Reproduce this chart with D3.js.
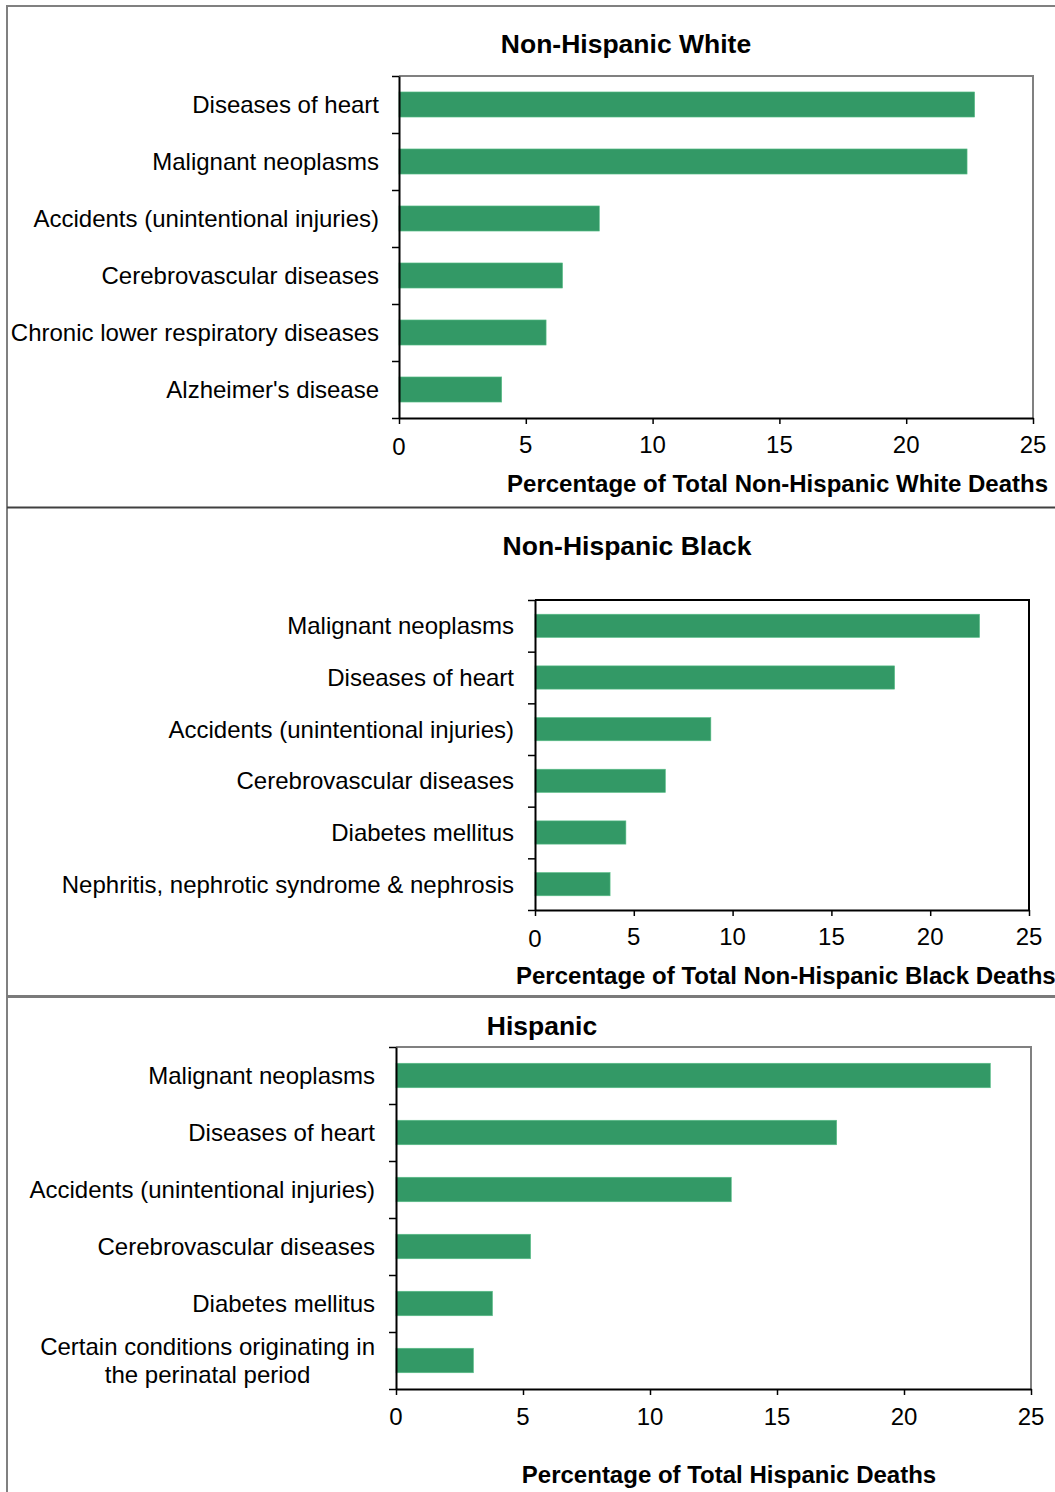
<!DOCTYPE html>
<html><head><meta charset="utf-8">
<script src="https://cdn.jsdelivr.net/npm/d3@7"></script>
<style>
html,body{margin:0;padding:0;background:#fff;}
text{font-family:"Liberation Sans",Arial,Helvetica,sans-serif;fill:#000;}
</style></head>
<body>
<svg id="chart" width="1055" height="1492"></svg>
<script>
// ---- data ----
const whiteCategories = ["Diseases of heart","Malignant neoplasms","Accidents (unintentional injuries)","Cerebrovascular diseases","Chronic lower respiratory diseases","Alzheimer's disease"];
const whiteValues = [22.7, 22.4, 7.9, 6.45, 5.8, 4.05];
const blackCategories = ["Malignant neoplasms","Diseases of heart","Accidents (unintentional injuries)","Cerebrovascular diseases","Diabetes mellitus","Nephritis, nephrotic syndrome & nephrosis"];
const blackValues = [22.5, 18.2, 8.9, 6.6, 4.6, 3.8];
const hispanicCategories = ["Malignant neoplasms","Diseases of heart","Accidents (unintentional injuries)","Cerebrovascular diseases","Diabetes mellitus","Certain conditions originating in\nthe perinatal period"];
const hispanicValues = [23.4, 17.35, 13.2, 5.3, 3.8, 3.05];
const tickValues = [0, 5, 10, 15, 20, 25];
const titles = ["Non-Hispanic White","Non-Hispanic Black","Hispanic"];
const axisTitles = ["Percentage of Total Non-Hispanic White Deaths","Percentage of Total Non-Hispanic Black Deaths","Percentage of Total Hispanic Deaths"];

const svg = d3.select("#chart");
const BAR = "#339966";

// outer frame and separators
svg.append("line").attr("x1",7).attr("x2",1055).attr("y1",6).attr("y2",6).attr("stroke","#808080").attr("stroke-width",2);
svg.append("line").attr("x1",7).attr("x2",7).attr("y1",5).attr("y2",1492).attr("stroke","#808080").attr("stroke-width",2);
svg.append("line").attr("x1",7).attr("x2",1055).attr("y1",507.5).attr("y2",507.5).attr("stroke","#404040").attr("stroke-width",2);
svg.append("line").attr("x1",7).attr("x2",1055).attr("y1",996.5).attr("y2",996.5).attr("stroke","#7a7a7a").attr("stroke-width",3);

const panels = [
  {cats: whiteCategories, vals: whiteValues, title: titles[0], axisTitle: axisTitles[0],
   L:399, R:1033, T:76, B:418, frame:"#808080", titleX:626, titleY:53, labelX:379, tickY:453,
   atX:1048, atY:492, atAnchor:"end", pad:0.56},
  {cats: blackCategories, vals: blackValues, title: titles[1], axisTitle: axisTitles[1],
   L:535, R:1029, T:600, B:910, frame:"#000", titleX:627, titleY:555, labelX:514, tickY:945,
   atX:516, atY:984, atAnchor:"start", pad:0.55},
  {cats: hispanicCategories, vals: hispanicValues, title: titles[2], axisTitle: axisTitles[2],
   L:396, R:1031, T:1047, B:1389, frame:"#808080", titleX:542, titleY:1035, labelX:375, tickY:1425,
   atX:729, atY:1483, atAnchor:"middle", pad:0.57}
];

panels.forEach(p => {
  const g = svg.append("g");
  const x = d3.scaleLinear().domain([0,25]).range([p.L, p.R]);
  const y = d3.scaleBand().domain(p.cats).range([p.T, p.B]).paddingInner(p.pad).paddingOuter(p.pad/2);
  const yb = d3.scaleLinear().domain([0, p.cats.length]).range([p.T, p.B]);

  // frame (top and right)
  g.append("path").attr("d", `M${p.L},${p.T}H${p.R}V${p.B}`).attr("fill","none")
    .attr("stroke", p.frame).attr("stroke-width",2);

  // bars
  g.selectAll("rect.bar").data(p.cats).join("rect").attr("class","bar")
    .attr("x", x(0)).attr("y", d => y(d))
    .attr("width", (d,i) => x(p.vals[i]) - x(0))
    .attr("height", y.bandwidth())
    .attr("fill", BAR).attr("stroke","#5cc08a").attr("stroke-width",0.6);

  // x axis
  const xa = g.append("g").attr("transform",`translate(0,${p.B})`)
    .call(d3.axisBottom(x).tickValues(tickValues).tickSize(6).tickSizeOuter(0).tickFormat(""));
  xa.select(".domain").attr("stroke","#000").attr("stroke-width",2);
  xa.selectAll(".tick line").attr("stroke","#000").attr("stroke-width",1.5);

  g.selectAll("text.tick").data(tickValues).join("text").attr("class","tick")
    .attr("x", d => x(d)).attr("y", d => p.tickY + (d===0 && p !== panels[2] ? 2 : 0))
    .attr("text-anchor","middle").attr("font-size",24).text(d => d);

  // y axis (ticks at category boundaries)
  const ya = g.append("g").attr("transform",`translate(${p.L},0)`)
    .call(d3.axisLeft(yb).ticks(p.cats.length).tickSize(7).tickSizeOuter(0).tickFormat(""));
  ya.select(".domain").attr("stroke","#000").attr("stroke-width",2);
  ya.selectAll(".tick line").attr("stroke","#000").attr("stroke-width",1.5);

  // category labels
  const LFS = 24;
  p.cats.forEach((c, i) => {
    const lines = c.split("\n");
    const cy = y(c) + y.bandwidth()/2;
    if (lines.length === 1) {
      g.append("text").attr("x", p.labelX).attr("y", cy).attr("dy","0.36em")
        .attr("text-anchor","end").attr("font-size",LFS).text(c);
    } else {
      const t = g.append("text").attr("font-size",LFS).attr("text-anchor","middle");
      const probe = g.append("text").attr("font-size",LFS).text(lines[0]);
      const w = probe.node().getComputedTextLength();
      probe.remove();
      const cx = p.labelX - w/2;
      lines.forEach((ln, k) => {
        t.append("tspan").attr("x", cx).attr("y", cy + (k - (lines.length-1)/2) * 28).attr("dy","0.36em").text(ln);
      });
    }
  });

  // titles
  g.append("text").attr("x", p.titleX).attr("y", p.titleY).attr("text-anchor","middle")
    .attr("font-size",26.5).attr("font-weight","bold").text(p.title);
  g.append("text").attr("x", p.atX).attr("y", p.atY).attr("text-anchor", p.atAnchor)
    .attr("font-size",24).attr("font-weight","bold").text(p.axisTitle);
});
</script>
</body></html>
